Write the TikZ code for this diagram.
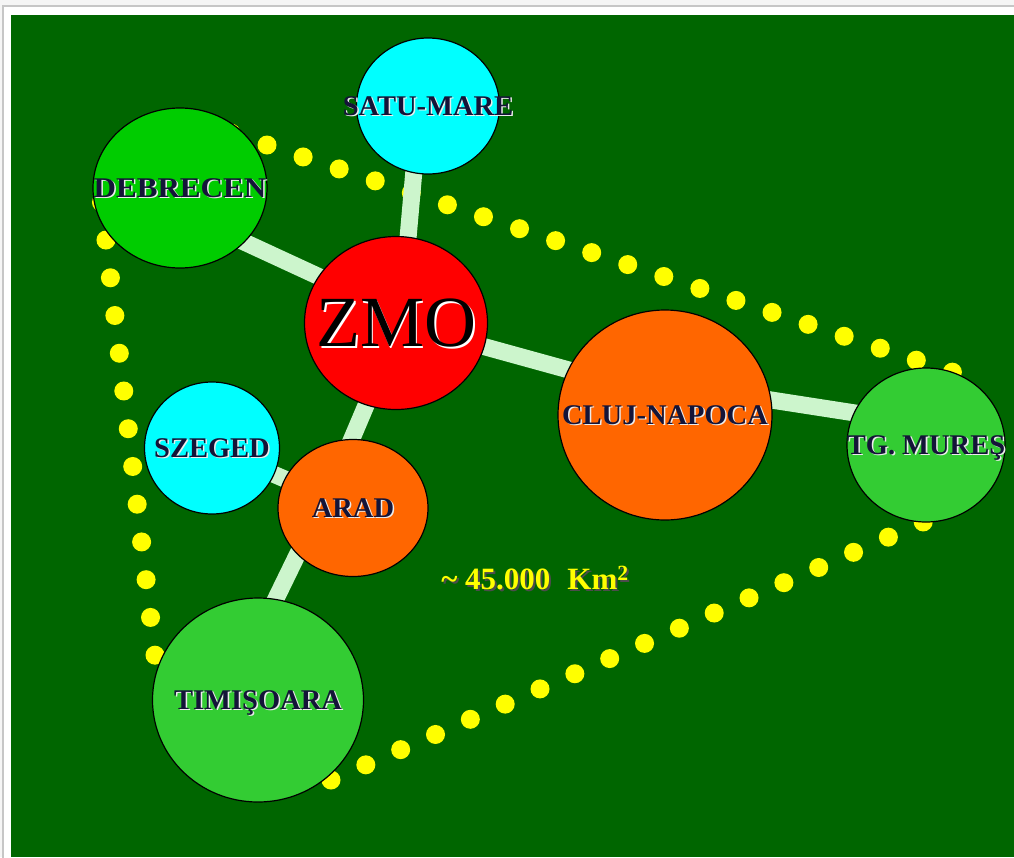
\documentclass[tikz,border=0pt]{standalone}
\usepackage{fontspec}
\setmainfont{Liberation Serif}
\usetikzlibrary{shapes.geometric,backgrounds}

\definecolor{zmofield}{rgb}{0, 0.4, 0}
\definecolor{zmored}{rgb}{1.0, 0, 0}
\definecolor{zmoorange}{rgb}{1.0, 0.4, 0}
\definecolor{zmocyan}{rgb}{0, 1.0, 1.0}
\definecolor{zmolime}{rgb}{0, 0.8, 0}
\definecolor{zmoleaf}{rgb}{0.2, 0.8, 0.2}
\definecolor{zmomint}{rgb}{0.8, 0.96, 0.8}
\definecolor{zmoyellow}{rgb}{1.0, 1.0, 0}
\definecolor{zmoink}{rgb}{0.08, 0.08, 0.22}

\newcommand{\shadowed}[3]{\makebox[0pt]{\rlap{\hspace{#3}\raisebox{-#3}{\color{#2}#1}}#1}}

\tikzset{city/.style={draw, ellipse, inner sep=0pt, line width=1.2pt, text=zmoink, text depth=0pt, font=\fontsize{28.5}{30}\selectfont\bfseries}}
\tikzset{edge/.style={line width=17pt, color=zmomint, shorten <=-12pt, shorten >=-12pt}}
\tikzset{areadots/.style={line width=19pt, color=zmoyellow, line cap=round, dash pattern=on 0pt off 38pt}}

\begin{document}
\begin{tikzpicture}[x=1pt, y=-1pt]
        \useasboundingbox (0,0) rectangle (1014,857);

        \node[city, fill=zmolime, minimum width=174pt, minimum height=160pt] (Ndeb) at (180,188) {\shadowed{\scalebox{1.09}[1]{DEBRECEN}}{white!85!gray}{1.5pt}};
        \node[city, fill=zmocyan, minimum width=143pt, minimum height=136pt] (Nsatu) at (428,106) {\shadowed{SATU-MARE}{white!85!gray}{1.5pt}};
        \node[city, fill=zmored, minimum width=183pt, minimum height=173pt, text=black, font=\fontsize{72}{74}\selectfont] (Nzmo) at (396,323) {\shadowed{ZMO}{white}{2pt}};
        \node[city, fill=zmoorange, minimum width=214pt, minimum height=210pt] (Ncluj) at (665,415) {\shadowed{CLUJ-NAPOCA}{white!85!gray}{1.5pt}};
        \node[city, fill=zmoleaf, minimum width=158pt, minimum height=154pt] (Ntgm) at (926,445) {\shadowed{TG. MUREŞ}{white!85!gray}{1.5pt}};
        \node[city, fill=zmocyan, minimum width=135pt, minimum height=132pt] (Nszeg) at (212,448) {\shadowed{SZEGED}{white!85!gray}{1.5pt}};
        \node[city, fill=zmoorange, minimum width=150pt, minimum height=137pt] (Narad) at (353,508) {\shadowed{ARAD}{white!85!gray}{1.5pt}};
        \node[city, fill=zmoleaf, minimum width=211pt, minimum height=204pt] (Ntim) at (258,700) {\shadowed{TIMIŞOARA}{white!85!gray}{1.5pt}};

        \node[inner sep=0pt, text=zmoyellow, text height=21pt, text depth=0pt, font=\fontsize{31}{33}\selectfont\bfseries] (Narea) at (535,579) {\shadowed{\textasciitilde\ 45.000\hspace{0.55em}Km\textsuperscript{2}}{gray!60!black}{2pt}};

        \begin{pgfonlayer}{background}
        \fill[gray!8] (0,0) rectangle (1014,857);
        \filldraw[fill=white, draw=gray!45, line width=1.5pt] (3,6) rectangle (1030,880);
        \fill[zmofield] (11,15) rectangle (1014,857);

        \draw [areadots] (194.9,121.1) -- (958,374);
        \draw [areadots] (101.5,202.3) -- (157,672);
        \draw [areadots] (331,780) -- (930,519);

        \draw [edge] (Ndeb.-40) -- (Nzmo.149);
        \draw [edge] (Nsatu.-102) -- (Nzmo.82);
        \draw [edge] (Nzmo.-15) -- (Ncluj.155);
        \draw [edge] (Ncluj.8) -- (Ntgm.156);
        \draw [edge] (Nzmo.-110) -- (Narad.91);
        \draw [edge] (Nszeg) -- (Narad);
        \draw [edge] (Narad.-140) -- (Ntim.80);
        \end{pgfonlayer}

    \end{tikzpicture}
\end{document}
